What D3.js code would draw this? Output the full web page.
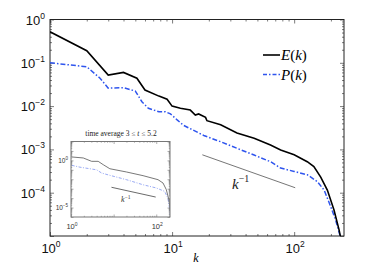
<!DOCTYPE html>
<html>
<head>
<meta charset="utf-8">
<script src="https://cdn.jsdelivr.net/npm/d3@7"></script>
<style>
  body { margin: 0; background: #fff; }
  svg { display: block; }
</style>
</head>
<body>
<svg id="chart" width="381" height="266"></svg>
<script>
// main spectra
const kE   = [1, 2, 3, 4, 5.15, 6, 7.8, 9.1, 10, 11.7, 14.1, 15.5, 16.5, 18.8, 19.3, 25, 34, 47, 64, 77.5, 100, 128, 145, 165, 187, 212, 233, 245]
const valE = [0.52, 0.19, 0.052, 0.06, 0.044, 0.0235, 0.017, 0.0144, 0.01, 0.0089, 0.0081, 0.0062, 0.0066, 0.0055, 0.0046, 0.0037, 0.0024, 0.0018, 0.00126, 0.00097, 0.00075, 0.00052, 0.0004, 0.00023, 0.000115, 0.00004, 0.000014, 0.000007]

const kP   = [1, 2, 2.57, 3, 4, 5, 5.66, 6.4, 7.8, 8.8, 9.7, 11, 12.4, 18.2, 25, 34, 47, 64, 77.5, 100, 128, 155, 176, 199, 219, 238, 245]
const valP = [0.1, 0.081, 0.044, 0.026, 0.0266, 0.0223, 0.0126, 0.0089, 0.0074, 0.0074, 0.0066, 0.0048, 0.0036, 0.0021, 0.0015, 0.00106, 0.00074, 0.00052, 0.00037, 0.00031, 0.00026, 0.00018, 0.000115, 0.000048, 0.000023, 0.00001, 0.000006]

// k^-1 guide line
const kRef   = [17.7, 102]
const refAmp = 7.5e-4 * 17.7

// inset: time average 3 <= t <= 5.2
const kInE   = [1.04, 1.94, 3.05, 4.34, 5.7, 8.15, 20, 49, 110, 144, 172, 198, 214]
const valInE = [2.3, 1.8, 0.79, 0.79, 0.35, 0.13, 0.059, 0.024, 0.009, 0.004, 0.0008, 0.000068, 0.0000044]
const kInP   = [1.04, 1.62, 4, 5.2, 8.15, 20, 49, 100, 157, 187, 204, 214]
const valInP = [0.3, 0.19, 0.1, 0.046, 0.026, 0.009, 0.0026, 0.0012, 0.00052, 0.0001, 0.000009, 0.0000013]
const kInRef   = [8.9, 97]
const inRefAmp = 10 ** -2.85 * 8.9

// tick labels (exponents of 10)
const xTickExp   = [0, 1, 2]
const yTickExp   = [0, -1, -2, -3, -4]
const inXTickExp = [0, 2]
const inYTickExp = [0, -5]

const svg = d3.select('#chart')

const margin = {left: 50, top: 19.5, right: 344, bottom: 236}

let x = d3.scaleLog().domain([1, 256]).range([margin.left, margin.right])
let y = d3.scaleLog().domain([1e-5, 1]).range([margin.bottom, margin.top])

// minor tick values for a log domain
function minorTicks(domain) {
    let out = []
    let lo = Math.floor(Math.log10(domain[0]))
    let hi = Math.ceil(Math.log10(domain[1]))
    for (let d = lo; d <= hi; d++) {
        for (let m = 2; m <= 9; m++) {
            let v = m * 10 ** d
            if (v > domain[0] && v < domain[1]) out.push(v)
        }
    }
    return out
}

function drawFrame(g, xs, ys, major, minor, color, xMaj, yMaj) {
    let [x0, x1] = xs.range()
    let [y0, y1] = ys.range()
    let sides = [
        {axis: d3.axisBottom, s: xs, t: 'translate(0,' + y0 + ')', maj: xMaj},
        {axis: d3.axisTop, s: xs, t: 'translate(0,' + y1 + ')', maj: xMaj},
        {axis: d3.axisLeft, s: ys, t: 'translate(' + x0 + ',0)', maj: yMaj},
        {axis: d3.axisRight, s: ys, t: 'translate(' + x1 + ',0)', maj: yMaj}
    ]
    sides.forEach((side) => {
        g.append('g').attr('transform', side.t)
            .call(side.axis(side.s).tickValues(side.maj).tickSize(-major).tickFormat(''))
        g.append('g').attr('transform', side.t)
            .call(side.axis(side.s).tickValues(minorTicks(side.s.domain())).tickSize(-minor).tickFormat(''))
    })
    g.selectAll('.domain').remove()
    g.selectAll('line').attr('stroke', color).attr('stroke-width', 0.6)
    g.append('rect')
        .attr('x', x0).attr('y', y1)
        .attr('width', x1 - x0).attr('height', y0 - y1)
        .attr('fill', 'none').attr('stroke', color).attr('stroke-width', 1)
}

function powLabel(sel, exp, size, supSize, supDy) {
    sel.append('tspan').attr('font-size', size).text('10')
    sel.append('tspan').attr('font-size', supSize).attr('dy', supDy)
        .text(String(exp).replace('-', '\u2212'))
}

// clip
svg.append('clipPath').attr('id', 'clipMain')
    .append('rect').attr('x', margin.left).attr('y', margin.top)
    .attr('width', margin.right - margin.left).attr('height', margin.bottom - margin.top)

let frame = svg.append('g')
drawFrame(frame, x, y, 4, 2, '#222', xTickExp.map(e => 10 ** e), yTickExp.concat([-5]).map(e => 10 ** e))

// main tick labels
xTickExp.forEach((e) => {
    let t = svg.append('text')
        .attr('x', x(10 ** e) + 1).attr('y', 253)
        .attr('text-anchor', 'middle')
        .attr('font-family', 'Liberation Sans, Arial, sans-serif')
        .attr('fill', '#111')
    powLabel(t, e, 13, 8.5, -6)
})
yTickExp.forEach((e) => {
    let t = svg.append('text')
        .attr('x', 45).attr('y', y(10 ** e) + 5)
        .attr('text-anchor', 'end')
        .attr('font-family', 'Liberation Sans, Arial, sans-serif')
        .attr('fill', '#111')
    powLabel(t, e, 13, 8.5, -6)
})

svg.append('text')
    .attr('x', 196).attr('y', 262)
    .attr('text-anchor', 'middle')
    .attr('font-family', 'Liberation Serif, serif')
    .attr('font-style', 'italic')
    .attr('font-size', 12)
    .text('k')

let line = d3.line()
    .x(d => x(d[0]))
    .y(d => y(d[1]))

let plot = svg.append('g').attr('clip-path', 'url(#clipMain)')

plot.append('path')
    .datum(kRef.map(k => [k, refAmp / k]))
    .attr('d', line)
    .attr('fill', 'none').attr('stroke', '#666').attr('stroke-width', 0.9)

plot.append('path')
    .datum(kP.map((k, i) => [k, valP[i]]))
    .attr('d', line)
    .attr('fill', 'none').attr('stroke', '#2f55ee').attr('stroke-width', 1.5)
    .attr('stroke-dasharray', '5,2,1.5,2')

plot.append('path')
    .datum(kE.map((k, i) => [k, valE[i]]))
    .attr('d', line)
    .attr('fill', 'none').attr('stroke', '#000').attr('stroke-width', 1.6)

// k^-1 label
let refLab = svg.append('text')
    .attr('x', 232).attr('y', 189)
    .attr('font-family', 'Liberation Serif, serif')
    .attr('fill', '#222')
refLab.append('tspan').attr('font-size', 15).attr('font-style', 'italic').text('k')
refLab.append('tspan').attr('font-size', 10).attr('dy', -7).text('\u22121')

// legend
let legend = svg.append('g').attr('font-family', 'Liberation Serif, serif').attr('font-size', 15)
let legendItems = [
    {name: 'E', y: 55, color: '#000', dash: null, w: 1.6},
    {name: 'P', y: 74.5, color: '#2f55ee', dash: '4,2,1.5,2', w: 1.3}
]
legendItems.forEach((it) => {
    legend.append('line')
        .attr('x1', 263).attr('x2', 280).attr('y1', it.y).attr('y2', it.y)
        .attr('stroke', it.color).attr('stroke-width', it.w)
        .attr('stroke-dasharray', it.dash)
    let t = legend.append('text').attr('x', 281).attr('y', it.y + 5)
    t.append('tspan').attr('font-style', 'italic').text(it.name)
    t.append('tspan').text('(')
    t.append('tspan').attr('font-style', 'italic').text('k')
    t.append('tspan').text(')')
})

// inset
let ix = d3.scaleLog().domain([1, 210]).range([71, 170])
let iy = d3.scaleLog().domain([1e-6, 1e2]).range([217, 141.5])

let inset = svg.append('g')
inset.append('rect').attr('x', 71).attr('y', 141.5).attr('width', 99).attr('height', 75.5).attr('fill', '#fff')

svg.append('clipPath').attr('id', 'clipInset')
    .append('rect').attr('x', 71).attr('y', 141.5).attr('width', 99).attr('height', 75.5)

let iline = d3.line()
    .x(d => ix(d[0]))
    .y(d => iy(d[1]))

let iplot = inset.append('g').attr('clip-path', 'url(#clipInset)')
iplot.append('path')
    .datum(kInRef.map(k => [k, inRefAmp / k]))
    .attr('d', iline)
    .attr('fill', 'none').attr('stroke', '#444').attr('stroke-width', 0.8)
iplot.append('path')
    .datum(kInP.map((k, i) => [k, valInP[i]]))
    .attr('d', iline)
    .attr('fill', 'none').attr('stroke', '#8094f0').attr('stroke-width', 0.8)
    .attr('stroke-dasharray', '3,1.5,1,1.5')
iplot.append('path')
    .datum(kInE.map((k, i) => [k, valInE[i]]))
    .attr('d', iline)
    .attr('fill', 'none').attr('stroke', '#555').attr('stroke-width', 0.8)

let iframe = inset.append('g')
drawFrame(iframe, ix, iy, 2.5, 1.2, '#777', [1, 10, 100], d3.range(-6, 3).map(e => 10 ** e))

inXTickExp.forEach((e) => {
    let t = inset.append('text')
        .attr('x', ix(10 ** e) + 1).attr('y', 229)
        .attr('text-anchor', 'middle')
        .attr('font-family', 'Liberation Sans, Arial, sans-serif')
        .attr('fill', '#333')
    powLabel(t, e, 7.5, 5, -3.5)
})
inYTickExp.forEach((e) => {
    let t = inset.append('text')
        .attr('x', 68).attr('y', iy(10 ** e) + 2.5)
        .attr('text-anchor', 'end')
        .attr('font-family', 'Liberation Sans, Arial, sans-serif')
        .attr('fill', '#333')
    powLabel(t, e, 6.5, 4.5, -3)
})

let ttl = inset.append('text')
    .attr('x', 121).attr('y', 136)
    .attr('text-anchor', 'middle')
    .attr('font-family', 'Liberation Serif, serif')
    .attr('font-size', 7.5)
    .attr('fill', '#222')
ttl.append('tspan').text('time average 3 \u2264 ')
ttl.append('tspan').attr('font-style', 'italic').text('t')
ttl.append('tspan').text(' \u2264 5.2')

let iLab = inset.append('text')
    .attr('x', 121).attr('y', 202)
    .attr('font-family', 'Liberation Serif, serif')
    .attr('fill', '#333')
iLab.append('tspan').attr('font-size', 8).attr('font-style', 'italic').text('k')
iLab.append('tspan').attr('font-size', 5.5).attr('dy', -3.5).text('\u22121')
</script>
</body>
</html>
